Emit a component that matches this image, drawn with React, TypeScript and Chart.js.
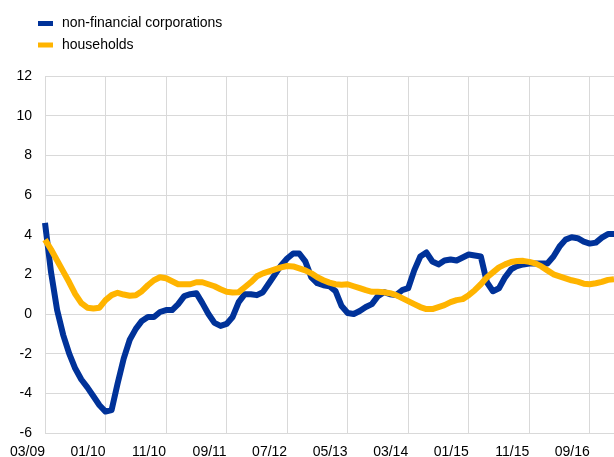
import React, { useEffect, useRef } from "react";
import { Chart, registerables } from "chart.js";

Chart.register(...registerables);

// Monthly observations from 03/2009 to 01/2017
const startYear = 2009;
const startMonth = 3;
const monthCount = 95;
const months: string[] = [];
for (let k = 0; k < monthCount; k++) {
  const m = ((startMonth - 1 + k) % 12) + 1;
  const y = startYear + Math.floor((startMonth - 1 + k) / 12);
  months.push(String(m).padStart(2, "0") + "/" + String(y % 100).padStart(2, "0"));
}

const seriesLabels = ["non-financial corporations", "households"];

const nfc: number[] = [
  4.6, 2.1, 0.2, -1.05, -2.0, -2.75, -3.3, -3.7, -4.15, -4.6,
  -4.92, -4.85, -3.5, -2.25, -1.3, -0.75, -0.35, -0.15, -0.15, 0.1,
  0.2, 0.2, 0.5, 0.9, 1.0, 1.05, 0.55, 0.0, -0.45, -0.6,
  -0.5, -0.15, 0.6, 1.0, 1.0, 0.95, 1.1, 1.55, 2.0, 2.45,
  2.8, 3.05, 3.05, 2.65, 1.85, 1.55, 1.45, 1.4, 1.15, 0.4,
  0.05, 0.0, 0.15, 0.35, 0.5, 0.9, 1.1, 1.0, 0.95, 1.2,
  1.3, 2.2, 2.9, 3.1, 2.65, 2.5, 2.7, 2.75, 2.7, 2.85,
  3.0, 2.95, 2.9, 1.6, 1.15, 1.3, 1.85, 2.25, 2.42, 2.5,
  2.55, 2.55, 2.55, 2.55, 2.9, 3.4, 3.75, 3.87, 3.82, 3.65,
  3.55, 3.6, 3.85, 4.03, 4.03,
];

const households: number[] = [
  3.75, 3.25, 2.7, 2.15, 1.6, 1.0, 0.55, 0.32, 0.28, 0.32,
  0.7, 0.95, 1.07, 0.98, 0.92, 0.95, 1.15, 1.45, 1.7, 1.85,
  1.8, 1.65, 1.5, 1.5, 1.5, 1.6, 1.6, 1.5, 1.4, 1.25,
  1.12, 1.08, 1.1, 1.35, 1.6, 1.9, 2.05, 2.15, 2.25, 2.35,
  2.42, 2.4, 2.3, 2.2, 2.05, 1.85, 1.7, 1.58, 1.5, 1.48,
  1.5, 1.4, 1.3, 1.2, 1.12, 1.12, 1.1, 1.05, 0.95, 0.8,
  0.65, 0.5, 0.35, 0.25, 0.25, 0.35, 0.45, 0.6, 0.7, 0.75,
  0.95, 1.2, 1.5, 1.85, 2.1, 2.35, 2.5, 2.62, 2.67, 2.68,
  2.63, 2.55, 2.4, 2.2, 2.0, 1.9, 1.8, 1.7, 1.63, 1.53,
  1.5, 1.55, 1.62, 1.72, 1.75,
];

const yMin = -6;
const yMax = 12;
const yStep = 2;
const labelEvery = 10;

const FONT = 'Arial, "Liberation Sans", sans-serif';
const BLUE = "#003299";
const YELLOW = "#FFB400";
const GRID = "#d9d9d9";

const legendPlugin = {
  id: "customLegend",
  afterDraw(chart: any) {
    const ctx = chart.ctx;
    ctx.save();
    ctx.font = "14px " + FONT;
    ctx.textBaseline = "middle";
    ctx.textAlign = "left";
    const items = [0, 1];
    items.forEach((dsIndex, row) => {
      const ds = chart.data.datasets[dsIndex];
      const y = 23.5 + row * 21.5;
      ctx.fillStyle = ds.borderColor;
      ctx.fillRect(38, y - 2.5, 15, 5);
      ctx.fillStyle = "#000";
      ctx.fillText(ds.label, 62, y);
    });
    ctx.restore();
  },
};

export default function App() {
  const canvasRef = useRef<HTMLCanvasElement | null>(null);

  useEffect(() => {
    document.body.style.margin = "0";
    const canvas = canvasRef.current;
    if (!canvas) return;
    const chart = new Chart(canvas, {
      type: "line",
      data: {
        labels: months,
        datasets: [
          {
            label: seriesLabels[0],
            data: nfc,
            borderColor: BLUE,
            backgroundColor: BLUE,
            borderWidth: 6,
            pointRadius: 0,
            tension: 0,
            borderJoinStyle: "round",
            order: 1,
          },
          {
            label: seriesLabels[1],
            data: households,
            borderColor: YELLOW,
            backgroundColor: YELLOW,
            borderWidth: 6,
            pointRadius: 0,
            tension: 0,
            borderJoinStyle: "round",
            order: 0,
          },
        ],
      },
      options: {
        animation: false,
        responsive: true,
        maintainAspectRatio: false,
        layout: { padding: { top: 76, left: 0, right: 0, bottom: 0 } },
        plugins: {
          legend: { display: false },
          tooltip: { enabled: false },
          title: { display: false },
        },
        scales: {
          x: {
            type: "category",
            offset: false,
            grid: {
              color: (c: any) => (c.index % labelEvery === 0 ? GRID : "rgba(0,0,0,0)"),
              lineWidth: 1,
              drawTicks: true,
              tickLength: 11,
              tickColor: "rgba(0,0,0,0)",
            },
            border: { color: GRID },
            ticks: {
              autoSkip: false,
              maxRotation: 0,
              minRotation: 0,
              align: "end",
              padding: 0,
              color: "#000",
              font: { family: FONT, size: 14 },
              callback: (_v: any, i: number) => (i % labelEvery === 0 ? months[i] : ""),
            },
            afterFit: (axis: any) => {
              axis.height = 24;
            },
          },
          y: {
            min: yMin,
            max: yMax,
            grid: { color: GRID, lineWidth: 1, drawTicks: false },
            border: { color: GRID },
            ticks: {
              stepSize: yStep,
              padding: 13,
              color: "#000",
              font: { family: FONT, size: 14 },
            },
            afterFit: (axis: any) => {
              axis.width = 45;
            },
          },
        },
      },
      plugins: [legendPlugin],
    });
    return () => chart.destroy();
  }, []);

  return (
    <div style={{ position: "fixed", left: 0, top: 0, width: 614, height: 457 }}>
      <canvas ref={canvasRef} />
    </div>
  );
}
